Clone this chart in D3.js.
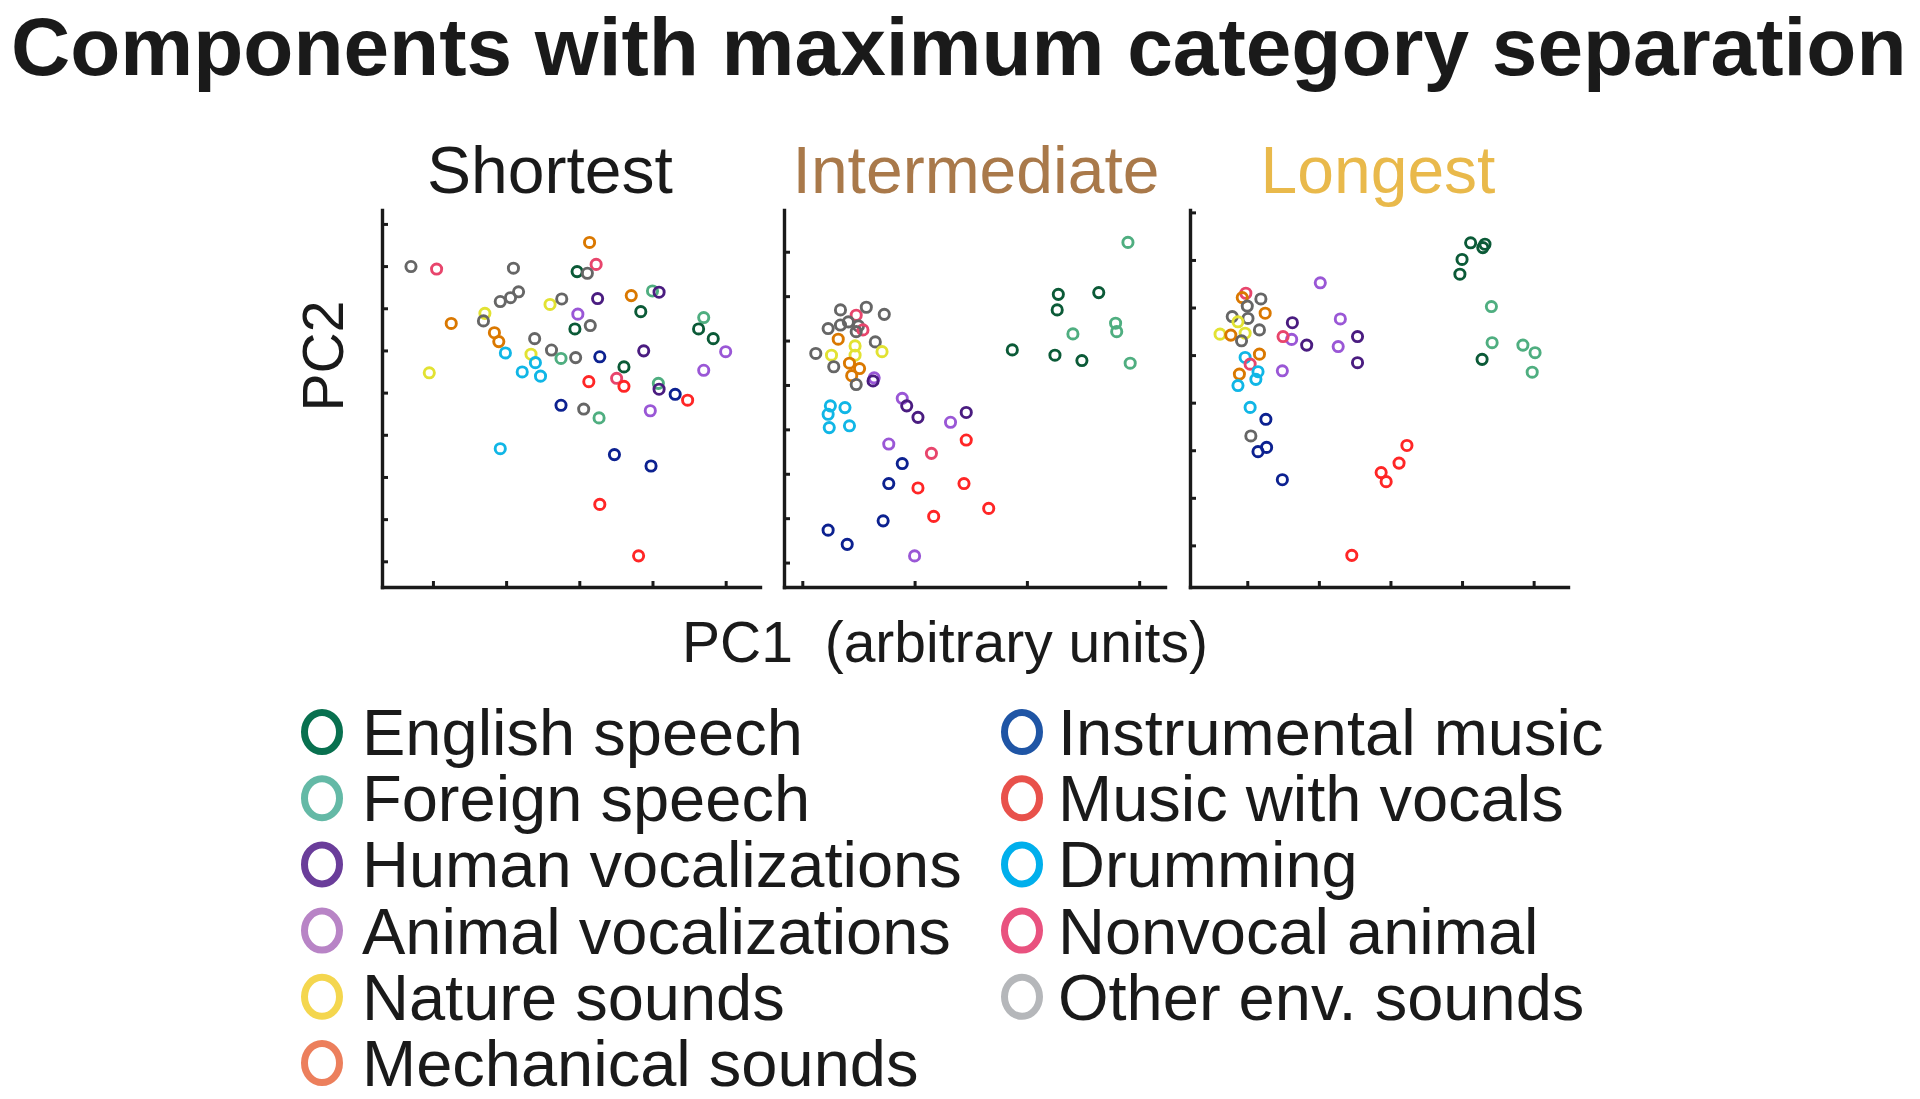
<!DOCTYPE html>
<html>
<head>
<meta charset="utf-8">
<script src="https://cdn.jsdelivr.net/npm/d3@7"></script>
<style>
    html, body { margin: 0; padding: 0; background: #fff; }
    svg text { font-family: "Liberation Sans", Arial, Helvetica, sans-serif; fill: #1a1a1a; }
</style>
</head>
<body>
<div id="chart"></div>
<script>
// ---- data ----
const categories = [
    "English speech", "Foreign speech", "Human vocalizations", "Animal vocalizations",
    "Nature sounds", "Mechanical sounds", "Instrumental music", "Music with vocals",
    "Drumming", "Nonvocal animal", "Other env. sounds"
];
const categoryKeys = ["EN", "FS", "HV", "AV", "NS", "MS", "IM", "MV", "DR", "NA", "OE"];
const markerColors = ["#0b5a37", "#4fae80", "#4a1c80", "#9a57d6", "#e2e232", "#da7800",
    "#0c2190", "#ff2626", "#10b6e6", "#e8456c", "#666666"];
const legendColors = ["#08704f", "#64b9a6", "#6a3d9a", "#b884c6", "#f4d64e", "#ec7f5c",
    "#1f55a5", "#e8514b", "#00afec", "#e9527f", "#b5b7ba"];

const panelTitles = ["Shortest", "Intermediate", "Longest"];
const panelTitleColors = ["#1a1a1a", "#a9794a", "#e9b94b"];

// [PC1, PC2, category] in arbitrary units (tick = 1 unit)
const shortest = [
    [0.70, 7.99, "OE"], [1.05, 7.93, "NA"], [3.14, 8.56, "MS"], [3.23, 8.04, "NA"],
    [2.10, 7.95, "OE"], [2.97, 7.87, "EN"], [3.11, 7.83, "OE"], [2.17, 7.39, "OE"],
    [2.06, 7.25, "OE"], [1.92, 7.16, "OE"], [2.60, 7.09, "NS"], [2.76, 7.22, "OE"],
    [3.25, 7.23, "HV"], [3.71, 7.30, "MS"], [4.00, 7.41, "FS"], [4.09, 7.38, "HV"],
    [1.71, 6.88, "NS"], [1.69, 6.70, "OE"], [1.25, 6.64, "MS"], [2.98, 6.86, "AV"],
    [3.84, 6.92, "EN"], [2.94, 6.51, "EN"], [3.15, 6.59, "OE"], [4.70, 6.78, "FS"],
    [4.63, 6.51, "EN"], [4.83, 6.28, "EN"], [1.84, 6.42, "MS"], [1.90, 6.21, "MS"],
    [2.39, 6.28, "OE"], [2.62, 6.01, "OE"], [1.99, 5.94, "DR"], [2.34, 5.91, "NS"],
    [2.75, 5.81, "FS"], [2.95, 5.83, "OE"], [3.28, 5.85, "IM"], [3.88, 5.99, "HV"],
    [5.00, 5.97, "AV"], [0.95, 5.47, "NS"], [2.22, 5.49, "DR"], [2.40, 5.71, "DR"],
    [2.47, 5.39, "DR"], [3.61, 5.61, "EN"], [4.70, 5.53, "AV"], [3.13, 5.26, "MV"],
    [3.51, 5.34, "NA"], [3.61, 5.15, "MV"], [4.08, 5.22, "FS"], [4.09, 5.08, "HV"],
    [4.31, 4.96, "IM"], [4.48, 4.82, "MV"], [2.75, 4.70, "IM"], [3.06, 4.61, "OE"],
    [3.27, 4.40, "FS"], [3.97, 4.57, "AV"], [1.92, 3.67, "DR"], [3.48, 3.53, "IM"],
    [3.98, 3.26, "IM"], [3.28, 2.35, "MV"], [3.81, 1.13, "MV"]
];

const intermediate = [
    [3.90, 8.21, "FS"], [3.28, 7.04, "EN"], [3.64, 7.08, "EN"], [3.27, 6.69, "EN"],
    [3.79, 6.39, "FS"], [3.80, 6.20, "FS"], [3.41, 6.15, "FS"], [2.87, 5.79, "EN"],
    [3.25, 5.67, "EN"], [3.49, 5.55, "EN"], [3.92, 5.49, "FS"],
    [1.34, 6.69, "OE"], [1.48, 6.57, "NA"], [1.57, 6.75, "OE"], [1.73, 6.59, "OE"],
    [1.23, 6.27, "OE"], [1.34, 6.35, "OE"], [1.41, 6.42, "OE"], [1.50, 6.33, "OE"],
    [1.54, 6.24, "NA"], [1.48, 6.20, "OE"], [1.32, 6.03, "MS"], [1.65, 5.97, "OE"],
    [1.47, 5.88, "NS"], [1.12, 5.71, "OE"], [1.26, 5.67, "NS"], [1.47, 5.67, "NS"],
    [1.71, 5.75, "NS"], [1.42, 5.49, "MS"], [1.51, 5.37, "MS"], [1.28, 5.41, "OE"],
    [1.44, 5.21, "MS"], [1.48, 5.01, "OE"], [1.64, 5.16, "AV"], [1.63, 5.09, "HV"],
    [1.25, 4.53, "DR"], [1.38, 4.49, "DR"], [1.23, 4.34, "DR"], [1.24, 4.04, "DR"],
    [1.42, 4.08, "DR"], [1.89, 4.70, "AV"], [1.93, 4.53, "HV"], [2.03, 4.27, "HV"],
    [2.32, 4.16, "AV"], [2.46, 4.38, "HV"], [1.77, 3.67, "AV"], [2.46, 3.76, "MV"],
    [2.15, 3.46, "NA"], [1.89, 3.23, "IM"], [1.77, 2.78, "IM"], [2.03, 2.68, "MV"],
    [2.44, 2.78, "MV"], [2.66, 2.22, "MV"], [2.17, 2.04, "MV"], [1.72, 1.94, "IM"],
    [1.23, 1.73, "IM"], [1.40, 1.41, "IM"], [2.00, 1.15, "AV"]
];

const longest = [
    [4.12, 7.36, "EN"], [4.29, 7.26, "EN"], [4.32, 7.33, "EN"], [4.00, 7.01, "EN"],
    [3.97, 6.70, "EN"], [4.41, 6.02, "FS"], [4.42, 5.26, "FS"], [4.85, 5.21, "FS"],
    [5.02, 5.05, "FS"], [4.98, 4.64, "FS"], [4.28, 4.91, "EN"],
    [2.02, 6.52, "AV"], [2.30, 5.76, "AV"], [2.27, 5.18, "AV"], [1.63, 5.68, "HV"],
    [2.54, 5.39, "HV"], [2.54, 4.84, "HV"], [1.83, 5.21, "HV"], [1.62, 5.33, "AV"],
    [1.50, 5.39, "NA"], [1.49, 4.67, "AV"],
    [0.98, 6.30, "NA"], [0.93, 6.21, "MS"], [1.19, 6.18, "OE"], [1.00, 6.03, "OE"],
    [1.25, 5.88, "MS"], [0.79, 5.81, "OE"], [1.01, 5.77, "OE"], [0.87, 5.70, "NS"],
    [1.17, 5.53, "OE"], [0.97, 5.46, "NS"], [0.62, 5.44, "NS"], [0.77, 5.42, "MS"],
    [0.92, 5.30, "OE"], [0.97, 4.95, "DR"], [1.17, 5.02, "MS"], [1.04, 4.81, "NA"],
    [1.15, 4.65, "DR"], [1.12, 4.49, "DR"], [0.89, 4.60, "MS"], [0.87, 4.36, "DR"],
    [1.04, 3.90, "DR"], [1.26, 3.65, "IM"], [1.05, 3.30, "OE"], [1.27, 3.06, "IM"],
    [1.15, 2.97, "IM"], [1.49, 2.38, "IM"], [3.23, 3.10, "MV"], [3.12, 2.73, "MV"],
    [2.87, 2.53, "MV"], [2.94, 2.34, "MV"], [2.46, 0.79, "MV"]
];

const panelData = [shortest, intermediate, longest];
const xTickValues = [[1, 2, 3, 4, 5], [1, 2, 3, 4], [1, 2, 3, 4, 5]];
const yTickValues = [[1, 2, 3, 4, 5, 6, 7, 8, 9], [1, 2, 3, 4, 5, 6, 7, 8], [1, 2, 3, 4, 5, 6, 7, 8]];
const xDomains = [[0.304, 5.469], [0.837, 4.23], [0.20, 5.48]];
const yDomains = [[0.391, 9.33], [0.45, 8.94], [0.125, 8.05]];

// ---- layout ----
const WIDTH = 1920, HEIGHT = 1099;
const PANELS = [
    { left: 382, right: 760, titleX: 550 },
    { left: 784, right: 1165, titleX: 976 },
    { left: 1190, right: 1568, titleX: 1378 }
];
const PLOT_TOP = 210, PLOT_BOTTOM = 587;
const MARKER_R = 5.1;

const colorOf = key => markerColors[categoryKeys.indexOf(key)];

const svg = d3.select("#chart")
    .append("svg")
    .attr("width", WIDTH)
    .attr("height", HEIGHT);

// Title
svg.append("text")
    .attr("x", 11)
    .attr("y", 75)
    .style("font-size", "82px")
    .style("font-weight", "bold")
    .text("Components with maximum category separation");

PANELS.forEach((p, i) => {
    const x = d3.scaleLinear().domain(xDomains[i]).range([p.left, p.right]);
    const y = d3.scaleLinear().domain(yDomains[i]).range([PLOT_BOTTOM, PLOT_TOP]);

    const g = svg.append("g");

    // inward ticks, no labels (matlab style)
    const xAxis = d3.axisBottom(x).tickValues(xTickValues[i]).tickSize(-6).tickSizeOuter(0).tickFormat("");
    const yAxis = d3.axisLeft(y).tickValues(yTickValues[i]).tickSize(-6).tickSizeOuter(0).tickFormat("");

    g.append("g")
        .attr("transform", `translate(0, ${PLOT_BOTTOM})`)
        .call(xAxis);
    g.append("g")
        .attr("transform", `translate(${p.left}, 0)`)
        .call(yAxis);

    g.selectAll(".domain").attr("stroke", "#1a1a1a").attr("stroke-width", 3.4).attr("stroke-linecap", "square");
    g.selectAll(".tick line").attr("stroke", "#1a1a1a").attr("stroke-width", 3);

    g.append("text")
        .attr("x", p.titleX)
        .attr("y", 193)
        .attr("text-anchor", "middle")
        .style("font-size", "66px")
        .style("fill", panelTitleColors[i])
        .text(panelTitles[i]);

    g.selectAll("circle")
        .data(panelData[i])
        .join("circle")
        .attr("cx", d => x(d[0]))
        .attr("cy", d => y(d[1]))
        .attr("r", MARKER_R)
        .attr("fill", "none")
        .attr("stroke", d => colorOf(d[2]))
        .attr("stroke-width", 2.9);
});

// Axis labels
svg.append("text")
    .attr("transform", "translate(343, 356) rotate(-90)")
    .attr("text-anchor", "middle")
    .style("font-size", "57px")
    .text("PC2");

svg.append("text")
    .attr("x", 945)
    .attr("y", 662)
    .attr("text-anchor", "middle")
    .style("font-size", "57px")
    .style("white-space", "pre")
    .text("PC1  (arbitrary units)");

// Legend, two columns
const LEGEND_ROW = 66.2, LEGEND_TOP = 732;
const legendCols = [
    { cx: 322, tx: 362, items: [0, 1, 2, 3, 4, 5] },
    { cx: 1022, tx: 1058, items: [6, 7, 8, 9, 10] }
];

legendCols.forEach(col => {
    const rows = svg.append("g").selectAll("g")
        .data(col.items)
        .join("g")
        .attr("transform", (d, j) => `translate(0, ${LEGEND_TOP + j * LEGEND_ROW})`);

    rows.append("ellipse")
        .attr("cx", col.cx)
        .attr("cy", 0)
        .attr("rx", 17.5)
        .attr("ry", 19.5)
        .attr("fill", "none")
        .attr("stroke", d => legendColors[d])
        .attr("stroke-width", 7);

    rows.append("text")
        .attr("x", col.tx)
        .attr("y", 23)
        .style("font-size", "65px")
        .text(d => categories[d]);
});
</script>
</body>
</html>
